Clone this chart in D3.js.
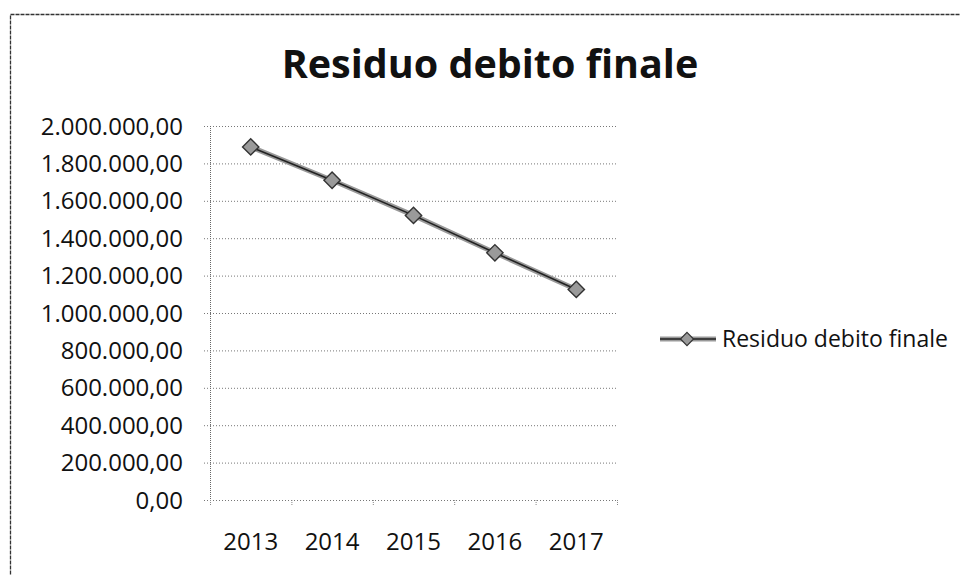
<!DOCTYPE html>
<html>
<head>
<meta charset="utf-8">
<script src="https://cdn.jsdelivr.net/npm/d3@7"></script>
<style>
  body { margin: 0; background: #fff; }
  text { font-family: "Open Sans", "DejaVu Sans", sans-serif; fill: #111; }
</style>
</head>
<body>
<div id="grafico"></div>
<script>
// DATI.
var anni = ["2013", "2014", "2015", "2016", "2017"];
var residuo = [1888000, 1710000, 1522000, 1322000, 1126000];
var tickY = [0, 200000, 400000, 600000, 800000, 1000000, 1200000, 1400000, 1600000, 1800000, 2000000];
var titolo = "Residuo debito finale";
var nomeSerie = "Residuo debito finale";

// MISURE.
var larghezza = 960, altezza = 575;
var area = { left: 210, right: 617, top: 126, bottom: 500 };

var it = d3.formatLocale({ decimal: ",", thousands: ".", grouping: [3], currency: ["", " €"] });
var formato = it.format(",.2f");

var svg = d3.select("#grafico").append("svg")
  .attr("width", larghezza)
  .attr("height", altezza);

// cornice del grafico (si vede solo sopra e a sinistra)
svg.append("rect")
  .attr("x", 10.5).attr("y", 14.5)
  .attr("width", 960).attr("height", 600)
  .attr("fill", "none")
  .attr("stroke", "#333")
  .attr("stroke-width", 1.3)
  .attr("stroke-dasharray", "4,1");

var x = d3.scaleBand().domain(anni).range([area.left, area.right]);
var y = d3.scaleLinear().domain([0, 2000000]).range([area.bottom, area.top]);

// griglia
svg.append("g")
  .selectAll("line")
  .data(tickY).enter()
  .append("line")
  .attr("x1", area.left - 6)
  .attr("x2", area.right)
  .attr("y1", function(d){ return y(d) + 0.5; })
  .attr("y2", function(d){ return y(d) + 0.5; })
  .attr("stroke", "#777")
  .attr("stroke-width", 1)
  .attr("stroke-dasharray", "1,2");

// asse verticale
svg.append("line")
  .attr("x1", area.left + 0.5).attr("x2", area.left + 0.5)
  .attr("y1", area.top).attr("y2", area.bottom + 5)
  .attr("stroke", "#666")
  .attr("stroke-dasharray", "1,1");

// tacche asse x ai confini delle categorie
var confini = anni.map(function(d){ return x(d); }).concat([area.right]);
svg.append("g")
  .selectAll("line")
  .data(confini).enter()
  .append("line")
  .attr("x1", function(d){ return d + 0.5; })
  .attr("x2", function(d){ return d + 0.5; })
  .attr("y1", area.bottom)
  .attr("y2", area.bottom + 6)
  .attr("stroke", "#888")
  .attr("stroke-dasharray", "1,1");

// etichette asse y
svg.append("g")
  .selectAll("text")
  .data(tickY).enter()
  .append("text")
  .text(function(d){ return formato(d); })
  .attr("x", 183)
  .attr("y", function(d){ return y(d) + 8.5; })
  .attr("text-anchor", "end")
  .attr("font-size", "24px");

// etichette asse x
svg.append("g")
  .selectAll("text")
  .data(anni).enter()
  .append("text")
  .text(function(d){ return d; })
  .attr("x", function(d){ return x(d) + x.bandwidth() / 2; })
  .attr("y", 550)
  .attr("text-anchor", "middle")
  .attr("font-size", "24px");

// titolo
svg.append("text")
  .text(titolo)
  .attr("x", 490)
  .attr("y", 78)
  .attr("text-anchor", "middle")
  .attr("font-size", "39.5px")
  .attr("font-weight", "bold");

// serie
var punti = anni.map(function(d, i){ return [x(d) + x.bandwidth() / 2, y(residuo[i])]; });
var linea = d3.line();

svg.append("path")
  .attr("d", linea(punti))
  .attr("fill", "none")
  .attr("stroke", "#999")
  .attr("stroke-width", 5);
svg.append("path")
  .attr("d", linea(punti))
  .attr("fill", "none")
  .attr("stroke", "#222")
  .attr("stroke-width", 1.6);

var rombo = d3.symbol().type(d3.symbolDiamond2).size(170);
svg.append("g")
  .selectAll("path")
  .data(punti).enter()
  .append("path")
  .attr("d", rombo)
  .attr("transform", function(d){ return "translate(" + d[0] + "," + d[1] + ")"; })
  .attr("fill", "#9a9a9a")
  .attr("stroke", "#333")
  .attr("stroke-width", 1.4);

// legenda
var leg = svg.append("g").attr("transform", "translate(660,339)");
leg.append("line")
  .attr("x1", 0).attr("x2", 56)
  .attr("stroke", "#999").attr("stroke-width", 5);
leg.append("line")
  .attr("x1", 0).attr("x2", 56)
  .attr("stroke", "#222").attr("stroke-width", 1.6);
leg.append("path")
  .attr("d", d3.symbol().type(d3.symbolDiamond2).size(110))
  .attr("transform", "translate(27,0)")
  .attr("fill", "#9a9a9a")
  .attr("stroke", "#333")
  .attr("stroke-width", 1.2);
leg.append("text")
  .text(nomeSerie)
  .attr("x", 62)
  .attr("y", 8)
  .attr("font-size", "23px");
</script>
</body>
</html>
